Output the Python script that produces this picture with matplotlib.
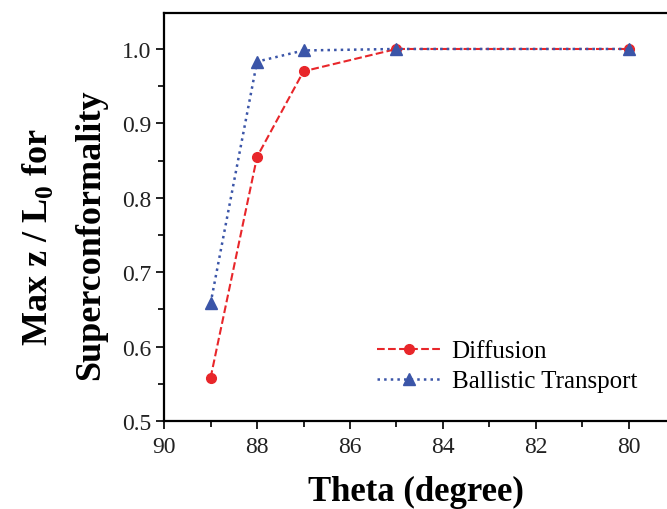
import matplotlib.pyplot as plt
from matplotlib.ticker import MultipleLocator

# Theta values (degree) and normalised max depth
theta = [89, 88, 87, 85, 80]
diffusion = [0.558, 0.855, 0.970, 1.000, 1.000]
ballistic = [0.658, 0.983, 0.998, 1.000, 1.000]

plt.rcParams['font.family'] = ['Liberation Serif', 'DejaVu Serif']
plt.rcParams['mathtext.fontset'] = 'custom'
plt.rcParams['mathtext.rm'] = 'Liberation Serif'
plt.rcParams['mathtext.bf'] = 'Liberation Serif:bold'

fig = plt.figure(figsize=(6.67, 5.10), dpi=100)
ax = fig.add_axes([0.246, 0.1725, 0.754, 0.801])

red = '#e8262a'
blue = '#3b55a8'

ax.plot(theta, diffusion, linestyle='--', color=red, lw=1.5,
        marker='o', ms=7, mec=red, mfc=red, label='Diffusion')
ax.plot(theta, ballistic, linestyle=':', color=blue, lw=1.8,
        marker='^', ms=8, mec=blue, mfc=blue, label='Ballistic Transport')

ax.set_xlim(90, 79.18)
ax.set_ylim(0.5, 1.049)
ax.xaxis.set_major_locator(MultipleLocator(2))
ax.xaxis.set_minor_locator(MultipleLocator(1))
ax.yaxis.set_major_locator(MultipleLocator(0.1))
ax.yaxis.set_minor_locator(MultipleLocator(0.05))
ax.yaxis.set_major_formatter(plt.FuncFormatter(lambda v, p: f'{v:.1f}'))

for side in ['left', 'bottom', 'top']:
    ax.spines[side].set_linewidth(1.6)
ax.spines['right'].set_visible(False)

ax.tick_params(which='both', direction='out', top=False, right=False,
               width=1.4, labelsize=17, colors='#222222')
ax.tick_params(which='major', length=6)
ax.tick_params(which='minor', length=4)
ax.tick_params(axis='x', pad=5)

ax.set_xlabel('Theta (degree)', fontsize=25, fontweight='bold', labelpad=13)

fig.text(0.056, 0.535, r'Max z / L$_\mathbf{0}$ for', rotation=90,
         fontsize=26, fontweight='bold', ha='center', va='center')
fig.text(0.136, 0.54, 'Superconformality', rotation=90,
         fontsize=26, fontweight='bold', ha='center', va='center')

ax.legend(loc='lower right', bbox_to_anchor=(0.985, 0.015), frameon=False,
          fontsize=18, handlelength=2.6, handletextpad=0.4, labelspacing=0.3)

fig.savefig('out.png', dpi=100)
